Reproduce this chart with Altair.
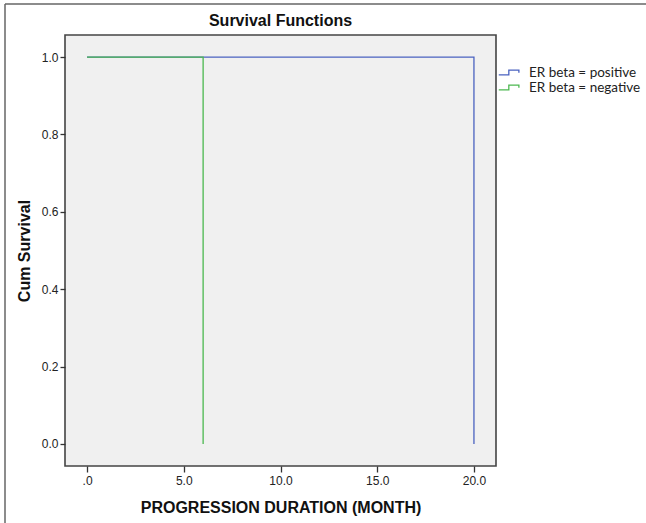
import altair as alt
import pandas as pd

# Data
groups = ["ER beta = positive", "ER beta = negative"]
pos_time = [0.0, 20.0, 20.0]
pos_surv = [1.0, 1.0, 0.0]
neg_time = [0.0, 6.0, 6.0]
neg_surv = [1.0, 1.0, 0.0]
x_ticks = [0, 5, 10, 15, 20]
y_ticks = [0.0, 0.2, 0.4, 0.6, 0.8, 1.0]
colors = ["#4a62c0", "#4cb850"]
title_text = "Survival Functions"

pos_df = pd.DataFrame({"time": pos_time, "surv": pos_surv,
                       "group": groups[0], "order": range(len(pos_time))})
neg_df = pd.DataFrame({"time": neg_time, "surv": neg_surv,
                       "group": groups[1], "order": range(len(neg_time))})

FONT = "Liberation Sans"

color_scale = alt.Scale(domain=groups, range=colors)
x_enc = alt.X("time:Q",
              scale=alt.Scale(domain=[-1.14, 21.14], nice=False, zero=False),
              axis=alt.Axis(values=x_ticks, title="PROGRESSION DURATION (MONTH)",
                            labelExpr="datum.value == 0 ? '.0' : format(datum.value, '.1f')",
                            tickSize=6, labelPadding=3, titlePadding=13,
                            titleFontSize=16, grid=False))
y_enc = alt.Y("surv:Q",
              scale=alt.Scale(domain=[-0.057, 1.057], nice=False, zero=False),
              axis=alt.Axis(values=y_ticks, title="Cum Survival", format=".1f",
                            tickSize=5, labelPadding=2, titlePadding=9,
                            titleFontSize=16, grid=False))

legend = alt.Legend(
    title=None, orient="none", legendX=434, legendY=30,
    symbolType="M-1.6,0.35H-0.1V-0.35H1.4V0.05",
    symbolSize=180, symbolStrokeWidth=1.3, symbolFillColor="transparent",
    labelFont="Lato", labelFontSize=13.5, labelColor="#222",
    labelOffset=12, rowPadding=1, symbolOffset=3,
)

pos_line = alt.Chart(pos_df).mark_line(strokeWidth=1.3).encode(
    x=x_enc, y=y_enc,
    color=alt.Color("group:N", scale=color_scale, legend=legend),
    order="order:Q",
)
neg_line = alt.Chart(neg_df).mark_line(strokeWidth=1.3).encode(
    x=x_enc, y=y_enc,
    color=alt.Color("group:N", scale=color_scale, legend=legend),
    order="order:Q",
)

# Outer frame lines (top and left) of the image
frame_top = alt.Chart(pos_df.head(1)).mark_rule(color="#666", strokeWidth=1.5).encode(
    x=alt.value(-60), x2=alt.value(600), y=alt.value(-31))
frame_left = alt.Chart(pos_df.head(1)).mark_rule(color="#666", strokeWidth=1.5).encode(
    x=alt.value(-60), y=alt.value(-31), y2=alt.value(500))

title_mark = alt.Chart(pd.DataFrame({"t": [title_text]})).mark_text(
    font=FONT, fontSize=16, fontWeight="bold", color="#111",
    align="center", baseline="middle"
).encode(text="t:N", x=alt.value(215.5), y=alt.value(-14))

chart = alt.layer(frame_top, frame_left, title_mark, pos_line, neg_line).properties(
    width=431, height=431,
    background="white",
    autosize=alt.AutoSizeParams(type="none"),
    padding={"left": 65, "top": 35, "right": 150, "bottom": 57},
).configure_view(
    fill="#f0f0f0", stroke="#444", strokeWidth=1.6
).configure_axis(
    grid=False, domain=False, tickColor="#333", tickWidth=1.3,
    labelFont=FONT, labelFontSize=12, labelColor="#222",
    titleFont=FONT, titleFontWeight="bold", titleColor="#111",
)

chart.save("out.html", embed_options={"renderer": "svg", "actions": False})
